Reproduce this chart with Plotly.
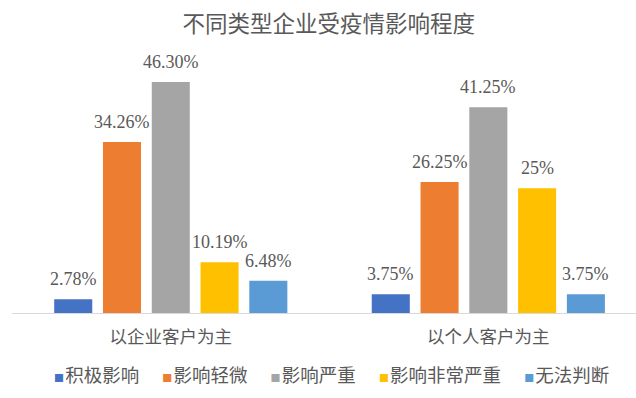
import plotly.graph_objects as go

# ---------------- data ----------------
categories = ["以企业客户为主", "以个人客户为主"]
series_names = ["积极影响", "影响轻微", "影响严重", "影响非常严重", "无法判断"]
jiji_yingxiang = [2.78, 3.75]
yingxiang_qingwei = [34.26, 26.25]
yingxiang_yanzhong = [46.30, 41.25]
feichang_yanzhong = [10.19, 25]
wufa_panduan = [6.48, 3.75]
series_values = [jiji_yingxiang, yingxiang_qingwei, yingxiang_yanzhong,
                 feichang_yanzhong, wufa_panduan]
title_text = "不同类型企业受疫情影响程度"

# ---------------- style ----------------
colors = ["#4472C4", "#ED7D31", "#A5A5A5", "#FFC000", "#5B9BD5"]
text_color = "#595959"
cjk = "Noto Sans CJK SC"
BARGAP = 0.232
BARGROUPGAP = 0.22


def fmt(v):
    return f"{v:g}%" if float(v).is_integer() else f"{v:.2f}%"


fig = go.Figure()
for name, vals, col in zip(series_names, series_values, colors):
    fig.add_trace(go.Bar(
        name=name, x=categories, y=vals,
        marker=dict(color=col, line=dict(width=0)),
        showlegend=False, hoverinfo="x+y+name",
    ))

# data labels placed above each bar via the axes' own coordinates
n = len(series_names)
slot = (1 - BARGAP) / n
annotations = []
for i, vals in enumerate(series_values):
    offset = (i - (n - 1) / 2) * slot
    for j, v in enumerate(vals):
        annotations.append(dict(
            x=j + offset, y=v, xref="x", yref="y",
            text=fmt(v), showarrow=False,
            yanchor="middle", xanchor="center", yshift=20,
            font=dict(family="Liberation Serif", size=18, color=text_color),
        ))

# legend row
legend_text = "\u3000\u2005".join(
    f"<span style='color:{c};font-size:10px'>■</span>\u200a{nm}"
    for nm, c in zip(series_names, colors)
)
annotations.append(dict(
    x=0.512, y=-0.245, xref="paper", yref="paper",
    text=legend_text, showarrow=False,
    xanchor="center", yanchor="middle",
    font=dict(family=cjk, size=18.5, color=text_color),
))

fig.update_layout(
    width=636, height=398,
    margin=dict(l=12, r=0, t=64, b=85),
    paper_bgcolor="white", plot_bgcolor="white",
    barmode="group", bargap=BARGAP, bargroupgap=BARGROUPGAP,
    title=dict(text=title_text, x=0.517, xref="container", xanchor="center",
               y=1 - 24 / 398, yref="container", yanchor="middle",
               font=dict(family=cjk, size=22.5, color=text_color)),
    xaxis=dict(type="category", range=[-0.5, 1.465],
               showline=True, linecolor="#D9D9D9", linewidth=1,
               ticks="", showgrid=False, zeroline=False,
               ticklabelstandoff=8,
               tickfont=dict(family=cjk, size=17.5, color=text_color)),
    yaxis=dict(range=[0, 49.9], visible=False, showgrid=False, zeroline=False),
    annotations=annotations,
    showlegend=False,
    font=dict(family=cjk, color=text_color),
)

fig.write_html(
    "out.html",
    config={"displayModeBar": False},
    post_script="document.body.style.margin='0';document.body.style.padding='0';",
)
